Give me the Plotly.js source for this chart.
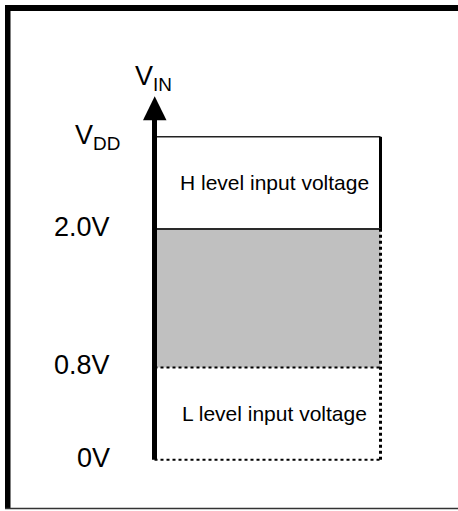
<!DOCTYPE html>
<html>
<head>
<meta charset="utf-8">
<script src="https://cdn.plot.ly/plotly-3.0.1.min.js"></script>
<style>html,body{margin:0;padding:0;background:#fff;}#chart{width:458px;height:511px;}</style>
</head>
<body>
<div id="chart"></div>
<script>
// ---- data ----
const levelLabels = ['0V', '0.8V', '2.0V', 'V<sub>DD</sub>'];
const levelValues = [0, 0.8, 2.0, 2.8];
const bandTexts = ['L level input voltage', '', 'H level input voltage'];
const axisLabel = 'V<sub>IN</sub>';

// ---- layout helpers (positions / styles) ----
const W = 458, H = 511;
const bandX0 = 154.5 / W, bandX1 = 380.5 / W;
const FONT = 'Arial, "Liberation Sans", sans-serif';
const px = (v) => v / W;
const py = (v) => 1 - v / H;

const shapes = [];
// outer frame
shapes.push({type: 'rect', xref: 'paper', yref: 'paper', x0: px(5), x1: 1.01, y0: py(11), y1: py(5), fillcolor: '#000', line: {width: 0}});
shapes.push({type: 'rect', xref: 'paper', yref: 'paper', x0: px(5), x1: px(10.5), y0: py(509), y1: py(5), fillcolor: '#000', line: {width: 0}});
shapes.push({type: 'line', xref: 'paper', yref: 'paper', x0: px(5), x1: 1.01, y0: py(508.5), y1: py(508.5), line: {color: '#333', width: 1.5}});

// grey undefined band between L and H thresholds
shapes.push({type: 'rect', xref: 'x', yref: 'y', x0: bandX0, x1: bandX1, y0: levelValues[1], y1: levelValues[2], fillcolor: '#c0c0c0', line: {width: 0}, layer: 'below'});
// H band border (solid)
shapes.push({type: 'line', xref: 'x', yref: 'y', x0: bandX0, x1: bandX1, y0: levelValues[3], y1: levelValues[3], line: {color: '#222', width: 1.5}});
shapes.push({type: 'line', xref: 'x', yref: 'y', x0: bandX1, x1: bandX1, y0: levelValues[2], y1: levelValues[3], line: {color: '#000', width: 3}});
shapes.push({type: 'line', xref: 'x', yref: 'y', x0: bandX0, x1: bandX1, y0: levelValues[2], y1: levelValues[2], line: {color: '#2a2a2a', width: 2}});
// dotted borders below
shapes.push({type: 'line', xref: 'x', yref: 'y', x0: bandX1, x1: bandX1, y0: levelValues[0], y1: levelValues[2], line: {color: '#000', width: 3, dash: 'dot'}});
shapes.push({type: 'line', xref: 'x', yref: 'y', x0: bandX0, x1: bandX1, y0: levelValues[1], y1: levelValues[1], line: {color: '#000', width: 2, dash: 'dot'}});
shapes.push({type: 'line', xref: 'x', yref: 'y', x0: bandX0, x1: bandX1, y0: levelValues[0], y1: levelValues[0], line: {color: '#000', width: 2, dash: 'dot'}});
// V_IN axis arrow
shapes.push({type: 'line', xref: 'x', yref: 'y', x0: bandX0, x1: bandX0, y0: levelValues[0], y1: levelValues[3], line: {color: '#000', width: 5}});
shapes.push({type: 'path', xref: 'x', yref: 'y', xsizemode: 'pixel', ysizemode: 'pixel', xanchor: bandX0, yanchor: levelValues[3],
  path: 'M -2.5,-1 L 2.5,-1 L 2.5,18 L -2.5,18 Z', fillcolor: '#000', line: {width: 0}});
shapes.push({type: 'path', xref: 'x', yref: 'y', xsizemode: 'pixel', ysizemode: 'pixel', xanchor: bandX0, yanchor: levelValues[3],
  path: 'M -11.5,16.5 L 12,16.5 L 0.2,40.5 Z', fillcolor: '#000', line: {width: 0}});

const annotations = [];
levelValues.forEach((v, i) => {
  annotations.push({xref: 'paper', yref: 'y', x: (i === 3 ? 122 : 112) / W, y: v, xanchor: 'right', yanchor: 'middle',
    text: levelLabels[i], showarrow: false, font: {family: FONT, size: 27, color: '#000'}, yshift: (i === 3 ? 0 : 2)});
});
bandTexts.forEach((t, i) => {
  if (!t) return;
  annotations.push({xref: 'x', yref: 'y', x: (bandX0 + bandX1) / 2, y: (levelValues[i] + levelValues[i + 1]) / 2,
    xanchor: 'center', yanchor: 'middle', xshift: 7, text: t, showarrow: false, font: {family: FONT, size: 21, color: '#000'}});
});
annotations.push({xref: 'paper', yref: 'paper', x: px(133), y: py(78), xanchor: 'left', yanchor: 'middle',
  text: axisLabel, showarrow: false, font: {family: FONT, size: 27, color: '#000'}});

const layout = {
  width: W, height: H,
  margin: {l: 0, r: 0, t: 0, b: 0, pad: 0},
  paper_bgcolor: '#fff', plot_bgcolor: '#fff',
  showlegend: false,
  xaxis: {range: [0, 1], visible: false, fixedrange: true},
  yaxis: {range: [-0.445, 3.987], visible: false, fixedrange: true},
  shapes: shapes,
  annotations: annotations
};

Plotly.newPlot('chart', [{x: [], y: [], type: 'scatter', mode: 'markers', hoverinfo: 'skip'}], layout, {staticPlot: true, displayModeBar: false});
</script>
</body>
</html>
